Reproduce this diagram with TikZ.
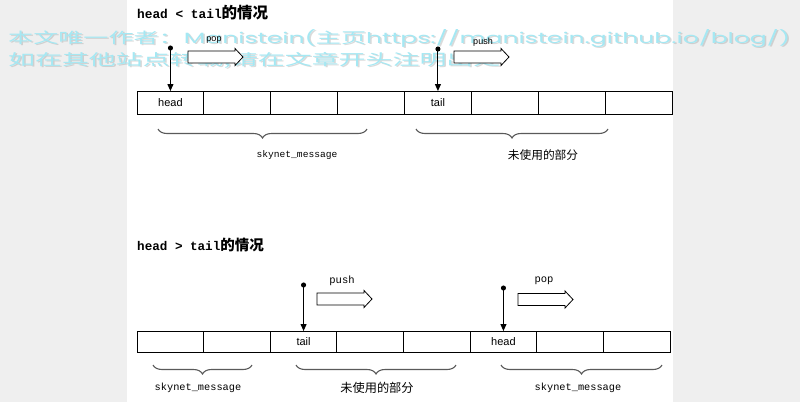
\documentclass[tikz,border=0pt]{standalone}
\usepackage{graphicx}
\usepackage{fontspec}
\setmainfont{Liberation Sans}
\newfontfamily\cjkf{Noto Sans CJK SC}
\newfontfamily\monof{Liberation Mono}
\newfontfamily\wmlat{Poppins}
\usetikzlibrary{arrows.meta,decorations.pathreplacing}
\definecolor{bggray}{RGB}{239,239,239}
\definecolor{wmcyan}{RGB}{165,232,243}
\definecolor{wmshadow}{RGB}{150,150,150}
\definecolor{brgray}{RGB}{90,90,90}
\begin{document}
\begin{tikzpicture}[x=1pt,y=-1pt,
  cellA/.style={draw, line width=0.9pt, minimum width=66.875pt, minimum height=23pt, inner sep=0pt, outer sep=0pt, font=\fontsize{11}{11}\selectfont},
  cellB/.style={cellA, minimum width=66.625pt, minimum height=21pt},
  ptr/.style={line width=1pt, {Circle[length=5pt,width=5pt]}-{Triangle[length=7pt,width=6pt]}},
  blockarr/.style={draw, line width=0.8pt, fill=white, line join=miter},
  brc/.style={draw=brgray, line width=1.1pt, decorate, decoration={brace, amplitude=9pt}},
  ttl/.style={anchor=west, inner sep=0pt},
  msgA/.style={inner sep=0pt, font=\monof\fontsize{9.6}{10}\selectfont},
  msgB/.style={inner sep=0pt, font=\monof\fontsize{10.3}{11}\selectfont},
  cnA/.style={inner sep=0pt, font=\cjkf\fontsize{11.7}{12}\selectfont},
  cnB/.style={inner sep=0pt, font=\cjkf\fontsize{12.2}{13}\selectfont},
  opA/.style={inner sep=0pt, font=\fontsize{9}{9}\selectfont},
  opB/.style={inner sep=0pt, font=\monof\fontsize{10.5}{11}\selectfont},
  wm/.style={inner sep=0pt, anchor=north west, text=wmcyan},
  wms/.style={inner sep=0pt, anchor=north west, text=wmshadow, text opacity=0.35},
  barrow/.pic={\draw[blockarr] (0,-6) -- (47,-6) -- (47,-8.5) -- (55,0) -- (47,8.5) -- (47,6) -- (0,6) -- cycle;}
]
\useasboundingbox (0,0) rectangle (800,402);
\fill[bggray] (0,0) rectangle (800,402);
\fill[white] (127,0) rectangle (672.5,402);

% watermark
\node[wms] at (9.5,30.5) {\resizebox*{782pt}{18pt}{{\cjkf 本文唯一作者：}{\wmlat Manistein(}{\cjkf 主页}{\wmlat https://manistein.github.io/blog/)}}};
\node[wm] (wm1) at (8,29) {\resizebox*{782pt}{18pt}{{\cjkf 本文唯一作者：}{\wmlat Manistein(}{\cjkf 主页}{\wmlat https://manistein.github.io/blog/)}}};
\node[wms] at (9.5,53.5) {\resizebox*{492pt}{16pt}{\cjkf 如在其他站点转载,请在文章开头注明出处}};
\node[wm] (wm2) at (8,52) {\resizebox*{492pt}{16pt}{\cjkf 如在其他站点转载,请在文章开头注明出处}};

% ===== head < tail =====
\node[ttl] (t1) at (137,13) {\monof\bfseries\fontsize{12.8}{13}\selectfont head < tail\cjkf\bfseries\fontsize{15.5}{15}\selectfont 的情况};

\node[cellA] (c1) at (170.4375,102.5) {head};
\node[cellA] (c2) at (237.3125,102.5) {};
\node[cellA] (c3) at (304.1875,102.5) {};
\node[cellA] (c4) at (371.0625,102.5) {};
\node[cellA] (c5) at (437.9375,102.5) {tail};
\node[cellA] (c6) at (504.8125,102.5) {};
\node[cellA] (c7) at (571.6875,102.5) {};
\node[cellA] (c8) at (638.5625,102.5) {};

\coordinate (hp1) at (170.4375,45.5);
\coordinate (tp1) at (437.9375,46.5);
\draw[ptr] (hp1) -- (c1.north);
\draw[ptr] (tp1) -- (c5.north);

\pic at (188,57) {barrow};
\pic at (454,57) {barrow};
\node[opA] (pop1) at (214,40) {pop};
\node[opA] (push1) at (483,42) {push};

\draw[brc] (367,129) -- (158,129);
\draw[brc] (608,129) -- (416,129);
\node[msgA] (m1) at (297,155) {skynet\_message};
\node[cnA] (u1) at (543,155) {未使用的部分};

% ===== head > tail =====
\node[ttl] (t2) at (137,245) {\monof\bfseries\fontsize{12.6}{13}\selectfont head > tail\cjkf\bfseries\fontsize{14.5}{15}\selectfont 的情况};

\node[cellB] (d1) at (170.3125,341.5) {};
\node[cellB] (d2) at (236.9375,341.5) {};
\node[cellB] (d3) at (303.5625,341.5) {tail};
\node[cellB] (d4) at (370.1875,341.5) {};
\node[cellB] (d5) at (436.8125,341.5) {};
\node[cellB] (d6) at (503.4375,341.5) {head};
\node[cellB] (d7) at (570.0625,341.5) {};
\node[cellB] (d8) at (636.6875,341.5) {};

\coordinate (tp2) at (303.5625,282.5);
\coordinate (hp2) at (503.4375,285.5);
\draw[ptr] (tp2) -- (d3.north);
\draw[ptr] (hp2) -- (d6.north);

\pic at (317,299) {barrow};
\pic at (518,299.5) {barrow};
\node[opB] (push2) at (342,281) {push};
\node[opB] (pop2) at (544,281) {pop};

\draw[brc] (252,365) -- (153,365);
\draw[brc] (456,365) -- (296,365);
\draw[brc] (662,365) -- (501,365);
\node[msgB] (m2) at (198,388) {skynet\_message};
\node[cnB] (u2) at (377,388) {未使用的部分};
\node[msgB] (m3) at (578,388) {skynet\_message};
\end{tikzpicture}
\end{document}
